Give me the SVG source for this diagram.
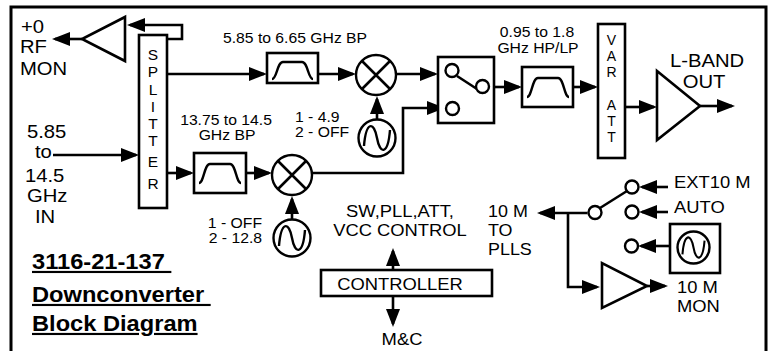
<svg xmlns="http://www.w3.org/2000/svg" width="771" height="351" viewBox="0 0 771 351">
<style>
text{font-family:"Liberation Sans",Arial,sans-serif;fill:#000}
.b{font-size:18.4px}
.m{font-size:16.7px}
.m2{font-size:16px}
.s{font-size:14.3px}
.v{font-size:15.5px}
.va{font-size:14px}
.t{font-size:21.5px;font-weight:bold;text-decoration:underline}
.box{fill:#fff;stroke:#000;stroke-width:2.6}
.ln{fill:none;stroke:#000;stroke-width:2.6}
.c{fill:#fff;stroke:#000;stroke-width:2.4}
</style>
<defs>
<marker id="ah" markerUnits="userSpaceOnUse" markerWidth="18" markerHeight="14" refX="15" refY="7" orient="auto" viewBox="0 0 18 14"><path d="M0,0 L18,7 L0,14 z" fill="#000"/></marker>
<path id="sine" d="M-13,8 C-11,-17 -3,-17 0,0 C3,17 11,17 13,-8" fill="none" stroke="#000" stroke-width="2.4"/>
<path id="bp" d="M5,30 C10,30 10,11 16,11 L36,11 C42,11 42,30 47,30" fill="none" stroke="#000" stroke-width="2.4"/>
</defs>
<rect x="0" y="0" width="771" height="351" fill="#fff"/>
<rect id="frame" x="11" y="7" width="755" height="360" fill="none" stroke="#000" stroke-width="3"/>

<g id="connectors" class="ln" marker-end="url(#ah)">
<path d="M82,39 H55"/>
<path d="M167,39 H182 V25 H130"/>
<path d="M53,155 H136"/>
<path d="M167,74 H264"/>
<path d="M318,74 H353"/>
<path d="M397,74 H435"/>
<path d="M377,119.5 V99"/>
<path d="M167,173 H191"/>
<path d="M246,173 H269"/>
<path d="M292,219.5 V199"/>
<path d="M313,173 H403 V108 H442"/>
<path d="M489,87 H519"/>
<path d="M573,87 H595"/>
<path d="M625,107 H654"/>
<path d="M700,106 H732"/>
<path d="M393,270 V251"/>
<path d="M393,296 V324"/>
<path d="M587.5,213 H540"/>
<path d="M568,213 V287 H597"/>
<path d="M647,286 H665"/>
<path d="M668,187 H642"/>
<path d="M668,212 H642"/>
<path d="M670,246 H641"/>
</g>

<g id="rfmon">
<polygon class="box" points="125,17 125,61 82,39"/>
<text class="b" transform="translate(21 33) scale(1.1 1)">+0</text>
<text class="b" transform="translate(20 53) scale(1.1 1)">RF</text>
<text class="b" transform="translate(20 75) scale(1.1 1)">MON</text>
</g>

<g id="input">
<text class="b" transform="translate(27 138) scale(1.1 1)">5.85</text>
<text class="b" transform="translate(35 158) scale(1.1 1)">to</text>
<text class="b" transform="translate(25 182) scale(1.1 1)">14.5</text>
<text class="b" transform="translate(27 202) scale(1.1 1)">GHz</text>
<text class="b" transform="translate(35 223) scale(1.1 1)">IN</text>
</g>

<g id="splitter">
<rect class="box" x="139" y="35" width="28" height="173"/>
<text class="v" text-anchor="middle"><tspan x="153" y="60">S</tspan><tspan x="153" y="77">P</tspan><tspan x="153" y="95">L</tspan><tspan x="153" y="112">I</tspan><tspan x="153" y="129">T</tspan><tspan x="153" y="146">T</tspan><tspan x="153" y="167">E</tspan><tspan x="153" y="189">R</tspan></text>
</g>

<g id="filter1">
<rect class="box" x="267" y="53" width="51" height="30"/>
<path d="M272,79 C277,79 277,62 283,62 L302,62 C308,62 308,79 313,79" fill="none" stroke="#000" stroke-width="2.4"/>
<text class="s" text-anchor="middle" transform="translate(295 43) scale(1.1 1)">5.85 to 6.65 GHz BP</text>
</g>

<g id="mixer1">
<circle class="c" cx="376" cy="75" r="20"/>
<path class="ln" d="M362,61 L390,89 M390,61 L362,89"/>
</g>

<g id="osc1">
<circle class="c" cx="377" cy="138" r="18.5"/>
<use href="#sine" transform="translate(377 138)"/>
<text class="s" transform="translate(295 122) scale(1.1 1)">1 - 4.9</text>
<text class="s" transform="translate(295 137) scale(1.1 1)">2 - OFF</text>
</g>

<g id="filter2">
<rect class="box" x="194" y="153" width="52" height="40"/>
<use href="#bp" transform="translate(194 153)"/>
<text class="s" text-anchor="middle" transform="translate(226 125) scale(1.1 1)">13.75 to 14.5</text>
<text class="s" text-anchor="middle" transform="translate(227 140) scale(1.1 1)">GHz BP</text>
</g>

<g id="mixer2">
<circle class="c" cx="292" cy="175" r="20"/>
<path class="ln" d="M278,161 L306,189 M306,161 L278,189"/>
</g>

<g id="osc2">
<circle class="c" cx="292" cy="238" r="18.5"/>
<use href="#sine" transform="translate(292 238)"/>
<text class="s" text-anchor="end" transform="translate(262 228) scale(1.1 1)">1 - OFF</text>
<text class="s" text-anchor="end" transform="translate(262 243) scale(1.1 1)">2 - 12.8</text>
</g>

<g id="switch1">
<rect class="box" x="438" y="57" width="56" height="66"/>
<path class="ln" d="M457,76 L477,89"/>
<circle class="c" cx="452" cy="70.5" r="6.5"/>
<circle class="c" cx="482.5" cy="86.5" r="6.5"/>
<circle class="c" cx="452.5" cy="108.5" r="6.5"/>
</g>

<g id="filter3">
<rect class="box" x="522" y="67" width="51" height="40"/>
<use href="#bp" transform="translate(522 67)"/>
<text class="s" text-anchor="middle" transform="translate(537 37) scale(1.1 1)">0.95 to 1.8</text>
<text class="s" text-anchor="middle" transform="translate(538 53) scale(1.1 1)">GHz HP/LP</text>
</g>

<g id="varatt">
<rect class="box" x="598" y="24" width="27" height="134"/>
<text class="va" text-anchor="middle"><tspan x="611.5" y="45">V</tspan><tspan x="611.5" y="61">A</tspan><tspan x="611.5" y="77">R</tspan><tspan x="611.5" y="110">A</tspan><tspan x="611.5" y="126">T</tspan><tspan x="611.5" y="142">T</tspan></text>
</g>

<g id="lband">
<polygon class="box" points="657,71 657,140 700,106"/>
<text class="b" text-anchor="middle" transform="translate(707 67) scale(1.1 1)">L-BAND</text>
<text class="b" text-anchor="middle" transform="translate(704 88) scale(1.1 1)">OUT</text>
</g>

<g id="controller">
<rect class="box" x="321" y="270" width="171" height="26"/>
<text class="m" text-anchor="middle" transform="translate(400 290) scale(1.1 1)">CONTROLLER</text>
<text class="m" text-anchor="middle" transform="translate(400 217) scale(1.1 1)">SW,PLL,ATT,</text>
<text class="m" text-anchor="middle" transform="translate(400 236) scale(1.1 1)">VCC CONTROL</text>
<text class="m" text-anchor="middle" transform="translate(402 345) scale(1.1 1)">M&amp;C</text>
</g>

<g id="refswitch">
<path class="ln" d="M600,208 L627,191"/>
<circle class="c" cx="595" cy="212.5" r="6.5"/>
<circle class="c" cx="632" cy="187" r="6.5"/>
<circle class="c" cx="632" cy="212" r="6.5"/>
<circle class="c" cx="631.5" cy="246" r="6.5"/>
<text class="m2" transform="translate(488 217) scale(1.12 1)">10 M</text>
<text class="m2" transform="translate(488 236) scale(1.12 1)">TO</text>
<text class="m2" transform="translate(488 255) scale(1.12 1)">PLLS</text>
<text class="m" transform="translate(674 188) scale(1.1 1)">EXT10 M</text>
<text class="m" transform="translate(674 213) scale(1.1 1)">AUTO</text>
</g>

<g id="refosc">
<rect class="box" x="670" y="224" width="50" height="49"/>
<circle class="c" cx="693.5" cy="247.5" r="16"/>
<use href="#sine" transform="translate(693.5 247.5) scale(0.85)"/>
</g>

<g id="monamp">
<polygon class="box" points="602,263 602,308 647,286"/>
<text class="m" transform="translate(677 293) scale(1.1 1)">10 M</text>
<text class="m" transform="translate(677 312) scale(1.1 1)">MON</text>
</g>

<g id="title">
<text class="t" xml:space="preserve" transform="translate(32 269) scale(1.1 1)">3116-21-137 </text>
<text class="t" xml:space="preserve" transform="translate(32 302) scale(1.1 1)">Downconverter </text>
<text class="t" transform="translate(32 331) scale(1.1 1)">Block Diagram</text>
</g>
</svg>
